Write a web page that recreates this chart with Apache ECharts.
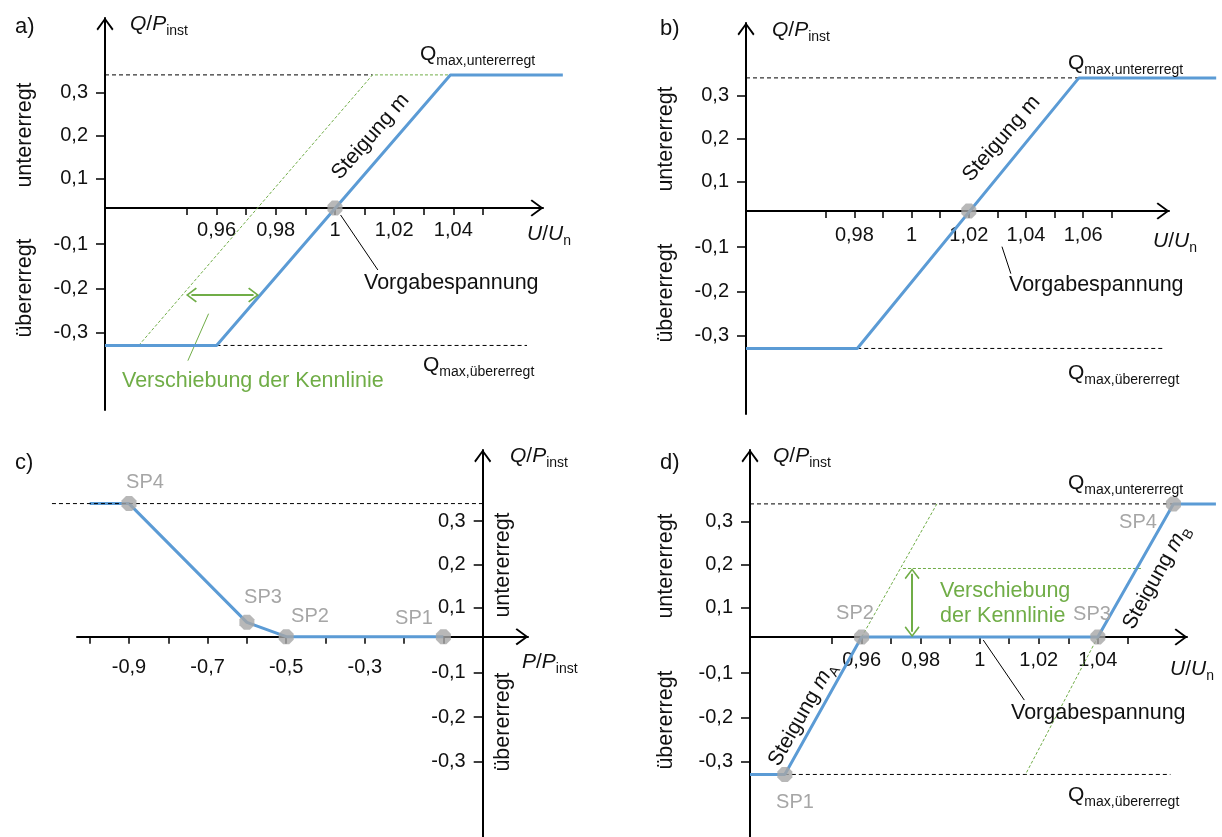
<!DOCTYPE html>
<html>
<head>
<meta charset="utf-8">
<script src="https://cdn.jsdelivr.net/npm/echarts@6/dist/echarts.min.js"></script>
<style>
  html, body { margin: 0; padding: 0; background: #fff; }
  #chart { width: 1222px; height: 837px; }
</style>
</head>
<body>
<div id="chart"></div>
<script>
// Q/P_inst Achse (schematisch): Lage der Striche und Beschriftung
const qTickPos = [-0.287, -0.185, -0.083, 0.067, 0.166, 0.266];
const qTickLabels = ['-0,3', '-0,2', '-0,1', '0,1', '0,2', '0,3'];
const qMaxUnder = 0.306;
const qMaxOver = -0.316;

// a) Q(U)-Kennlinie, Vorgabespannung 1
const aTicksU = [0.95, 0.96, 0.97, 0.98, 0.99, 1, 1.01, 1.02, 1.03, 1.04, 1.05];
const aLabelsU = [0.96, 0.98, 1, 1.02, 1.04];
const aCurveU = [0.9223, 0.96, 1.039, 1.077];
const aCurveQ = [qMaxOver, qMaxOver, qMaxUnder, qMaxUnder];
const aShiftU = [0.9337, 1.0127, 1.039];
const aShiftQ = [qMaxOver, qMaxUnder, qMaxUnder];
const aSetpoint = [1, 0];

// b) verschobene Vorgabespannung 1,02
const bTicksU = [0.97, 0.98, 0.99, 1, 1.01, 1.02, 1.03, 1.04, 1.05, 1.06, 1.07];
const bLabelsU = [0.98, 1, 1.02, 1.04, 1.06];
const bCurveU = [0.9421, 0.981, 1.0585, 1.1065];
const bCurveQ = [qMaxOver, qMaxOver, qMaxUnder, qMaxUnder];
const bSetpoint = [1.02, 0];

// c) Q(P)-Kennlinie mit Stützpunkten
const cTicksP = [-1, -0.9, -0.8, -0.7, -0.6, -0.5, -0.4, -0.3, -0.2, -0.1];
const cLabelsP = [-0.9, -0.7, -0.5, -0.3];
const cCurveP = [-1.0, -0.9, -0.6, -0.5, -0.1];
const cCurveQ = [qMaxUnder, qMaxUnder, 0.033, 0, 0];
const cPointNames = ['SP4', 'SP3', 'SP2', 'SP1'];
const cPointP = [-0.9, -0.6, -0.5, -0.1];
const cPointQ = [qMaxUnder, 0.033, 0, 0];

// d) Q(U)-Kennlinie mit Totband
const dTicksU = [0.95, 0.96, 0.97, 0.98, 0.99, 1, 1.01, 1.02, 1.03, 1.04, 1.05];
const dLabelsU = [0.96, 0.98, 1, 1.02, 1.04];
const dCurveU = [0.9222, 0.934, 0.96, 1.04, 1.0656, 1.08];
const dCurveQ = [qMaxOver, qMaxOver, 0, 0, qMaxUnder, qMaxUnder];
const dPointU = [0.934, 0.96, 1.04, 1.0656];
const dPointQ = [qMaxOver, 0, 0, qMaxUnder];
const dShiftAU = [0.96, 0.9855];
const dShiftAQ = [0, qMaxUnder];
const dShiftBU = [1.04, 1.0155];
const dShiftBQ = [0, qMaxOver];
const dShiftLevel = 0.1575;

const FONT = 'Liberation Sans, Arial, sans-serif';
const BLUE = '#5B9BD5';
const GREEN = '#70AD47';
const GREY = '#A6A6A6';
const CHEV = 'path://M50,0 L100,68 L92,76 L50,18 L8,76 L0,68 Z';
const OCT = 'path://M30,0 L70,0 L100,30 L100,70 L70,100 L30,100 L0,70 L0,30 Z';

const zip = (xs, ys) => xs.map((x, i) => [x, ys[i]]);
const comma = v => String(+v.toFixed(3)).replace('.', ',');
const qLabel = v => {
  let best = 0;
  qTickPos.forEach((p, i) => { if (Math.abs(p - v) < Math.abs(qTickPos[best] - v)) best = i; });
  return qTickLabels[best];
};

const chart = echarts.init(document.getElementById('chart'));

// Achsenkreuze der vier Diagramme (Pixel) -- Pfeilspitzen = Rand
const grids = [
  { left: 105, top: 18, width: 438, height: 392 },
  { left: 746, top: 23, width: 423, height: 391 },
  { left: 77, top: 450, width: 451, height: 387 },
  { left: 750, top: 450, width: 437, height: 387 }
];
// Zeichenflächen für die Kurven (gleicher Maßstab, etwas breiter)
const plotBox = [[105, 575], [746, 1222], [40, 528], [750, 1220]];
const xRanges = [[0.9223, 1.0703], [0.9421, 1.09], [-1.0323, 0.1153], [0.9222, 1.0702]];
const yRanges = [[-0.4644, 0.4368], [-0.4667, 0.4322], [-0.4605, 0.4292], [-0.4598, 0.4299]];
const xTicks = [aTicksU, bTicksU, cTicksP, dTicksU];
const xLabels = [aLabelsU, bLabelsU, cLabelsP, dLabelsU];
const xLabelMargin = [12, 14, 21, 13];
// Achsen liegen im Inneren der Fläche (Kreuzung bei Q = 0 bzw. P = 0)
const xAxisShift = [-202, -203, -200.3, -200];
const yAxisShift = [0, 0, -405.7, 0];

const axisLine = {
  show: true, onZero: false,
  symbol: ['none', CHEV], symbolSize: [17, 13], symbolOffset: [0, -6],
  lineStyle: { color: '#000', width: 2 }
};

const allGrids = grids.map(g => Object.assign({ outerBoundsMode: 'none' }, g));
const xAxis = grids.map((g, i) => ({
  type: 'value', gridIndex: i, min: xRanges[i][0], max: xRanges[i][1],
  position: 'bottom', offset: xAxisShift[i],
  axisLine: axisLine,
  axisTick: { show: true, customValues: xTicks[i], length: 7, lineStyle: { color: '#000', width: 1.5 } },
  axisLabel: { customValues: xLabels[i], margin: xLabelMargin[i], formatter: comma, color: '#111', fontSize: 20, fontFamily: FONT },
  splitLine: { show: false }
}));
const yAxis = grids.map((g, i) => ({
  type: 'value', gridIndex: i, min: yRanges[i][0], max: yRanges[i][1],
  position: 'left', offset: yAxisShift[i],
  axisLine: axisLine,
  axisTick: { show: true, customValues: qTickPos, length: 9, lineStyle: { color: '#000', width: 1.5 } },
  axisLabel: { customValues: qTickPos, margin: 17, formatter: qLabel, color: '#111', fontSize: 20, fontFamily: FONT },
  splitLine: { show: false }
}));
// unsichtbare Achsen der Zeichenflächen, Maßstab aus dem Achsenkreuz übernommen
grids.forEach((g, i) => {
  const perPx = (xRanges[i][1] - xRanges[i][0]) / g.width;
  const [l, r] = plotBox[i];
  allGrids.push({ left: l, top: g.top, width: r - l, height: g.height, outerBoundsMode: 'none' });
  xAxis.push({
    type: 'value', gridIndex: 4 + i, show: false,
    min: xRanges[i][0] - (g.left - l) * perPx, max: xRanges[i][0] + (r - g.left) * perPx
  });
  yAxis.push({ type: 'value', gridIndex: 4 + i, show: false, min: yRanges[i][0], max: yRanges[i][1] });
});

function line(i, data, color, width, type, z) {
  return {
    type: 'line', xAxisIndex: 4 + i, yAxisIndex: 4 + i, data: data, symbol: 'none',
    silent: true, animation: false, z: z || 2,
    lineStyle: { color: color, width: width, type: type || 'solid' }
  };
}
function points(i, data) {
  return {
    type: 'scatter', xAxisIndex: 4 + i, yAxisIndex: 4 + i, data: data, symbol: OCT, symbolSize: 15,
    itemStyle: { color: GREY }, silent: true, animation: false, z: 6
  };
}
function arrow(i, from, to) {
  const s = line(i, [], GREEN, 2);
  s.markLine = {
    silent: true, animation: false, symbol: [CHEV, CHEV], symbolSize: [15, 11],
    label: { show: false }, lineStyle: { color: GREEN, width: 2, type: 'solid' },
    data: [[{ coord: from }, { coord: to }]]
  };
  return s;
}

const series = [
  // a)
  line(0, [[aCurveU[0], qMaxUnder], [aShiftU[1], qMaxUnder]], '#000', 1, [4, 3]),
  line(0, [[aCurveU[1], qMaxOver], [1.0649, qMaxOver]], '#000', 1, [4, 3]),
  line(0, zip(aShiftU, aShiftQ), GREEN, 1, [3, 2]),
  line(0, zip(aCurveU, aCurveQ), BLUE, 3, 'solid', 3),
  line(0, [[1.0019, -0.016], [1.0145, -0.1425]], '#000', 1),
  line(0, [[0.9573, -0.243], [0.9503, -0.351]], GREEN, 1),
  arrow(0, [0.9515, -0.2], [0.9725, -0.2]),
  points(0, [aSetpoint]),
  // b)
  line(1, [[bCurveU[0], qMaxUnder], [bCurveU[2], qMaxUnder]], '#000', 1, [4, 3]),
  line(1, [[bCurveU[1], qMaxOver], [1.088, qMaxOver]], '#000', 1, [4, 3]),
  line(1, zip(bCurveU, bCurveQ), BLUE, 3, 'solid', 3),
  line(1, [[1.0316, -0.082], [1.0347, -0.144]], '#000', 1),
  points(1, [bSetpoint]),
  // c)
  line(2, zip(cCurveP, cCurveQ), BLUE, 3, 'solid', 3),
  line(2, [[-1.096, qMaxUnder], [0, qMaxUnder]], '#000', 1, [4, 3], 4),
  points(2, zip(cPointP, cPointQ)),
  // d)
  line(3, [[dCurveU[0], qMaxUnder], [dCurveU[4], qMaxUnder]], '#000', 1, [4, 3]),
  line(3, [[dCurveU[1], qMaxOver], [1.0646, qMaxOver]], '#000', 1, [4, 3]),
  line(3, zip(dShiftAU, dShiftAQ), GREEN, 1, [3, 2]),
  line(3, zip(dShiftBU, dShiftBQ), GREEN, 1, [3, 2]),
  line(3, [[0.974, dShiftLevel], [1.055, dShiftLevel]], GREEN, 1, [3, 2]),
  arrow(3, [0.9771, dShiftLevel - 0.012], [0.9771, 0.012]),
  line(3, zip(dCurveU, dCurveQ), BLUE, 3, 'solid', 3),
  line(3, [[1.0012, -0.007], [1.0151, -0.145]], '#000', 1),
  points(3, zip(dPointU, dPointQ))
];

// Beschriftungen
const rich = {
  i: { fontStyle: 'italic', fontSize: 21, fontFamily: FONT, padding: [0, 0, 4, 0], verticalAlign: 'bottom' },
  n: { fontSize: 21, fontFamily: FONT, padding: [0, 0, 4, 0], verticalAlign: 'bottom' },
  s: { fontSize: 14, fontFamily: FONT, verticalAlign: 'bottom' }
};
function txt(x, y, text, o) {
  o = o || {};
  return {
    type: 'text', x: x, y: y, rotation: (o.rot || 0) * Math.PI / 180, silent: true, z: 10,
    style: {
      text: text, fill: o.color || '#111', fontSize: o.size || 21.5, fontFamily: FONT,
      align: o.align || 'left', verticalAlign: 'middle', rich: rich
    }
  };
}
const QP = '{i|Q}{n|/}{i|P}{s|inst}';
const PP = '{i|P}{n|/}{i|P}{s|inst}';
const UU = '{i|U}{n|/}{i|U}{s|n}';
const QU = '{n|Q}{s|max,untererregt}';
const QO = '{n|Q}{s|max,übererregt}';

const graphic = [
  // a)
  txt(15, 27, 'a)', { size: 22 }),
  txt(130, 26, QP),
  txt(420, 56, QU), txt(423, 367, QO),
  txt(527, 236, UU),
  txt(25, 135, 'untererregt', { rot: 90, align: 'center' }),
  txt(25, 288, 'übererregt', { rot: 90, align: 'center' }),
  txt(372, 138, '{n|Steigung m}', { rot: 49, align: 'center' }),
  txt(364, 283, 'Vorgabespannung'),
  txt(122, 381, 'Verschiebung der Kennlinie', { color: GREEN }),
  // b)
  txt(660, 29, 'b)', { size: 22 }),
  txt(772, 32, QP),
  txt(1068, 65, QU), txt(1068, 375, QO),
  txt(1153, 243, UU),
  txt(666, 139, 'untererregt', { rot: 90, align: 'center' }),
  txt(666, 293, 'übererregt', { rot: 90, align: 'center' }),
  txt(1003, 140, '{n|Steigung m}', { rot: 49, align: 'center' }),
  txt(1009, 285, 'Vorgabespannung'),
  // c)
  txt(15, 463, 'c)', { size: 22 }),
  txt(510, 458, QP),
  txt(522, 664, PP),
  txt(503, 565, 'untererregt', { rot: 90, align: 'center' }),
  txt(503, 722, 'übererregt', { rot: 90, align: 'center' }),
  txt(145, 482, cPointNames[0], { color: GREY, size: 20, align: 'center' }),
  txt(263, 597, cPointNames[1], { color: GREY, size: 20, align: 'center' }),
  txt(310, 616, cPointNames[2], { color: GREY, size: 20, align: 'center' }),
  txt(414, 618, cPointNames[3], { color: GREY, size: 20, align: 'center' }),
  // d)
  txt(660, 463, 'd)', { size: 22 }),
  txt(773, 458, QP),
  txt(1068, 485, QU), txt(1068, 797, QO),
  txt(1170, 671, UU),
  txt(666, 566, 'untererregt', { rot: 90, align: 'center' }),
  txt(666, 720, 'übererregt', { rot: 90, align: 'center' }),
  txt(795, 802, 'SP1', { color: GREY, size: 20, align: 'center' }),
  txt(855, 613, 'SP2', { color: GREY, size: 20, align: 'center' }),
  txt(1092, 614, 'SP3', { color: GREY, size: 20, align: 'center' }),
  txt(1138, 522, 'SP4', { color: GREY, size: 20, align: 'center' }),
  txt(804, 715, '{n|Steigung }{i|m}{s|A}', { rot: 60.5, align: 'center' }),
  txt(1158, 578, '{n|Steigung }{i|m}{s|B}', { rot: 61, align: 'center' }),
  txt(940, 591, 'Verschiebung', { color: GREEN }),
  txt(940, 616, 'der Kennlinie', { color: GREEN }),
  txt(1011, 713, 'Vorgabespannung')
];

chart.setOption({
  animation: false,
  backgroundColor: '#fff',
  grid: allGrids,
  xAxis: xAxis,
  yAxis: yAxis,
  series: series,
  graphic: graphic
});
</script>
</body>
</html>
